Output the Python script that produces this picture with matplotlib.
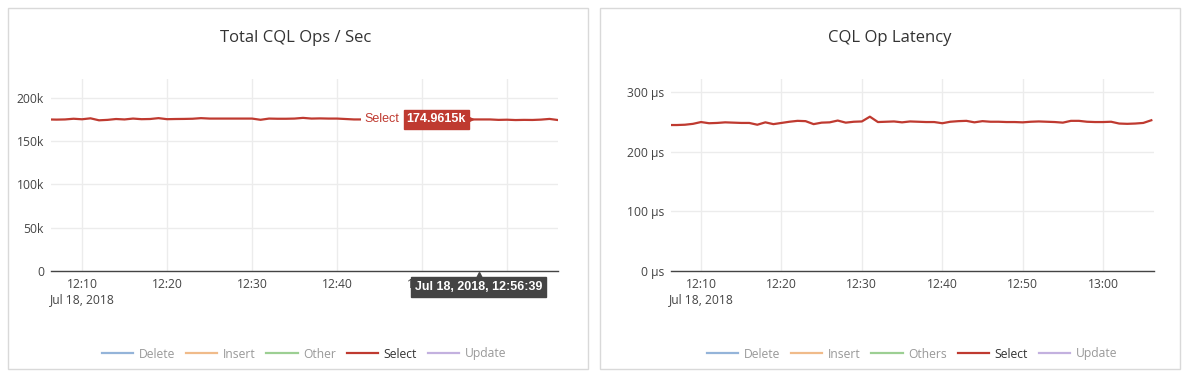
import matplotlib
matplotlib.use("Agg")
import matplotlib.pyplot as plt
import matplotlib.dates as mdates
import matplotlib.transforms as mtransforms
from matplotlib.patches import Rectangle
import pandas as pd

plt.rcParams['font.family'] = ['Open Sans', 'DejaVu Sans']

# ---------------- data ----------------
minutes = list(range(6, 67))  # minutes after 12:00 on Jul 18, 2018
ops_select_k = [175, 174.8, 175, 175.8, 175.2, 176.3, 174, 174.5, 175.5, 175,
                176, 175.3, 175.5, 176.5, 175.3, 175.5, 175.6, 175.8, 176.5, 176,
                176, 176, 176, 176, 176, 174.6, 176, 175.8, 175.8, 176,
                176.8, 176, 176.2, 176, 176, 175.5, 175, 175, 175, 175,
                175, 175, 175, 175, 175, 175, 175, 175, 175, 175,
                175, 175, 175, 174.5, 174.7, 174.3, 174.5, 174.4, 174.8, 175.6,
                174.3]
lat_select_us = [244.5, 244.5, 245, 246.5, 249.5, 247.5, 248, 249, 248.5, 248,
                 248, 245, 249, 246, 248, 250, 251.5, 251, 246, 248.5,
                 249, 252, 248.5, 250, 250.5, 258.5, 249.5, 250, 250.5, 249,
                 250.5, 250, 249.5, 249.5, 247.5, 250, 251, 251.5, 249, 251,
                 250, 250, 249.5, 249.5, 249, 250, 250.5, 250, 249.5, 248.5,
                 251.5, 251.5, 250, 249.5, 249.5, 250, 247, 246.5, 247, 248,
                 252.5]

legend_left = ["Delete", "Insert", "Other", "Select", "Update"]
legend_right = ["Delete", "Insert", "Others", "Select", "Update"]
legend_colors = ["#94b4d9", "#f0bb8a", "#9ccf93", "#bf3a30", "#c3b1df"]
legend_active = [False, False, False, True, False]

xtick_times = ["12:10", "12:20", "12:30", "12:40", "12:50", "13:00"]
ops_ticks = [0, 50000, 100000, 150000, 200000]
ops_ticklabels = ["0", "50k", "100k", "150k", "200k"]
lat_ticks = [0, 100, 200, 300]
lat_ticklabels = ["0 µs", "100 µs", "200 µs", "300 µs"]

hover_time = "2018-07-18 12:56:39"
hover_value_label = "174.9615k"
hover_value = 174961.5
# --------------------------------------

base = pd.Timestamp("2018-07-18 12:00:00")
times = [base + pd.Timedelta(minutes=m) for m in minutes]
ops_vals = [v * 1000 for v in ops_select_k]
tick_dt = [pd.Timestamp("2018-07-18 " + t) for t in xtick_times]
xlim_left = (pd.Timestamp("2018-07-18 12:06:21"), pd.Timestamp("2018-07-18 13:06:00"))
xlim_right = (pd.Timestamp("2018-07-18 12:06:16"), pd.Timestamp("2018-07-18 13:06:20"))

W, H = 1187, 376
fig = plt.figure(figsize=(W / 100, H / 100), dpi=100)
fig.patch.set_facecolor("white")

# panel frames
for x0, x1 in [(8, 588), (600, 1180)]:
    fig.patches.append(Rectangle((x0 / W, 1 - 369 / H), (x1 - x0) / W, (369 - 8) / H,
                                 transform=fig.transFigure, facecolor="white",
                                 edgecolor="#d9d9d9", lw=1.0, zorder=-5))

ax1 = fig.add_axes([51 / W, (H - 271) / H, 507 / W, 192 / H])
ax2 = fig.add_axes([671 / W, (H - 271) / H, 483 / W, 192 / H])

sel_color = legend_colors[3]


def style(ax, yticks, ylabels, ytop, xlim):
    ax.set_facecolor("none")
    for s in ["top", "right", "left"]:
        ax.spines[s].set_visible(False)
    ax.spines["bottom"].set_color("#444444")
    ax.spines["bottom"].set_linewidth(1.0)
    ax.set_ylim(0, ytop)
    ax.set_yticks(yticks)
    ax.set_yticklabels(ylabels)
    ax.set_xlim(*xlim)
    ax.set_xticks(tick_dt)
    labs = [t for t in xtick_times]
    labs[0] = labs[0] + "\nJul 18, 2018"
    ax.set_xticklabels(labs, linespacing=1.25)
    ax.tick_params(axis="both", length=0, colors="#444444", labelsize=8.7)
    ax.tick_params(axis="x", pad=5)
    ax.tick_params(axis="y", pad=5)
    ax.grid(True, color="#ececec", lw=1.0, zorder=0)
    ax.set_axisbelow(True)


# left chart
for name, col in zip(legend_left, legend_colors):
    if name == "Select":
        ax1.plot(times, ops_vals, color=col, lw=1.6, label=name, zorder=3)
    else:
        ax1.plot([], [], color=col, lw=1.6, label=name)
style(ax1, ops_ticks, ops_ticklabels, 221700, xlim_left)

# right chart
for name, col in zip(legend_right, legend_colors):
    if name == "Select":
        ax2.plot(times, lat_select_us, color=col, lw=1.6, label=name, zorder=3)
    else:
        ax2.plot([], [], color=col, lw=1.6, label=name)
style(ax2, lat_ticks, lat_ticklabels, 321.6, xlim_right)

fig.text(296 / W, 1 - 38 / H, "Total CQL Ops / Sec", ha="center", va="center",
         fontsize=12, color="#333333")
fig.text(890 / W, 1 - 38 / H, "CQL Op Latency", ha="center", va="center",
         fontsize=12, color="#333333")

# legends
for ax, cx in [(ax1, 304), (ax2, 912)]:
    leg = fig.legend(handles=ax.get_lines(), loc="center", ncol=5,
                     bbox_to_anchor=(cx / W, 1 - 354 / H), frameon=False,
                     fontsize=8.7, handlelength=2.6, handletextpad=0.45,
                     columnspacing=0.9)
    for txt, active in zip(leg.get_texts(), legend_active):
        txt.set_color("#333333" if active else "#999999")

# hover annotation on left chart
ht = pd.Timestamp(hover_time)
ax1.annotate(hover_value_label, xy=(ht, hover_value), xytext=(-9, 0),
             textcoords="offset points", ha="right", va="center",
             fontsize=9, fontweight="bold", color="white",
             family=["Liberation Sans", "DejaVu Sans"], zorder=6,
             bbox=dict(boxstyle="square,pad=0.25", fc=sel_color, ec=sel_color))
off_tri = mtransforms.offset_copy(ax1.transData, fig=fig, x=-6.0, y=0, units="points")
ax1.plot([ht], [hover_value], marker=">", ms=5, color=sel_color, mec=sel_color,
         transform=off_tri, zorder=6, clip_on=False)
ax1.annotate("Select", xy=(ht, hover_value), xytext=(-57, 0),
             textcoords="offset points", ha="right", va="center",
             fontsize=9, color=sel_color, family=["Liberation Sans", "DejaVu Sans"],
             zorder=5, bbox=dict(boxstyle="square,pad=0.25", fc="white", ec="none"))
# white gap covering line between "Select" and value box
ax1.annotate("  ", xy=(ht, hover_value), xytext=(-54, 0),
             textcoords="offset points", ha="right", va="center", fontsize=8.8,
             zorder=4, bbox=dict(boxstyle="square,pad=0.25", fc="white", ec="none"))

# time tooltip below axis
ax1.annotate("Jul 18, 2018, 12:56:39", xy=(ht, 0), xytext=(0, -11.8),
             textcoords="offset points", ha="center", va="center",
             fontsize=9, fontweight="bold", color="white",
             family=["Liberation Sans", "DejaVu Sans"], zorder=7,
             annotation_clip=False,
             bbox=dict(boxstyle="square,pad=0.32", fc="#444444", ec="#444444"))
off_up = mtransforms.offset_copy(ax1.transData, fig=fig, x=0, y=-2.6, units="points")
ax1.plot([ht], [0], marker="^", ms=5, color="#444444", mec="#444444",
         transform=off_up, zorder=7, clip_on=False)

fig.savefig("out.png", dpi=100, facecolor="white")
